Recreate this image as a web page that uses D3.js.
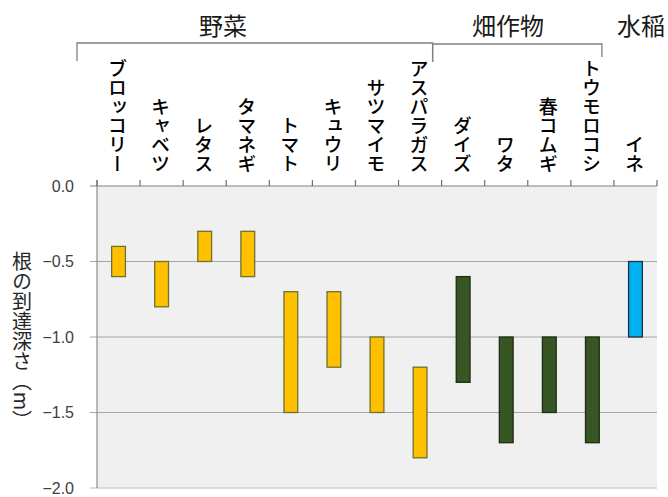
<!DOCTYPE html>
<html>
<head>
<meta charset="utf-8">
<script src="https://cdn.jsdelivr.net/npm/d3@7"></script>
<style>
  html, body { margin: 0; padding: 0; background: #fff; }
  svg { display: block; }
  .jp { font-family: "Noto Sans CJK JP", "Noto Sans", sans-serif; }
  .num { font-family: "Liberation Sans", Arial, sans-serif; }
</style>
</head>
<body>
<svg id="chart" width="668" height="497"></svg>
<script>
// Root depth ranges (m) by crop
const crops = ["ブロッコリー", "キャベツ", "レタス", "タマネギ", "トマト", "キュウリ", "サツマイモ", "アスパラガス",
               "ダイズ", "ワタ", "春コムギ", "トウモロコシ", "イネ"];
const depthTop    = [-0.4, -0.5, -0.3, -0.3, -0.7, -0.7, -1.0, -1.2, -0.6, -1.0, -1.0, -1.0, -0.5];
const depthBottom = [-0.6, -0.8, -0.5, -0.6, -1.5, -1.2, -1.5, -1.8, -1.3, -1.7, -1.5, -1.7, -1.0];
const cropGroup   = ["veg", "veg", "veg", "veg", "veg", "veg", "veg", "veg", "field", "field", "field", "field", "rice"];

// Crop groups shown above the columns
const groupKeys   = ["veg", "field", "rice"];
const groupNames  = ["野菜", "畑作物", "水稲"];
const groupFirst  = [0, 8, 12];
const groupLast   = [7, 11, 12];

const yTicks = [0, -0.5, -1.0, -1.5, -2.0];
const yTitle = "根の到達深さ（m）";

const fillColor   = d3.scaleOrdinal().domain(groupKeys).range(["#FFC000", "#375623", "#00B0F0"]);
const strokeColor = d3.scaleOrdinal().domain(groupKeys).range(["#6b7330", "#1e2d14", "#1d3442"]);

const svg = d3.select("#chart");
const plot = { left: 97, right: 657, top: 186, bottom: 488 };

const x = d3.scaleBand().domain(crops).range([plot.left, plot.right]).paddingInner(0).paddingOuter(0);
const y = d3.scaleLinear().domain([0, -2]).range([plot.top, plot.bottom]);
const fmt = d3.format(".1f");

// plot background
svg.append("rect")
  .attr("x", plot.left).attr("y", plot.top)
  .attr("width", plot.right - plot.left).attr("height", plot.bottom - plot.top)
  .attr("fill", "#f0f0f0");

// horizontal grid lines with left tick stubs
svg.append("g").selectAll("line")
  .data(yTicks.filter(t => t !== 0 && t !== -2))
  .join("line")
  .attr("x1", plot.left - 7).attr("x2", plot.right)
  .attr("y1", d => y(d)).attr("y2", d => y(d))
  .attr("stroke", "#a6a6a6").attr("stroke-width", 1.2);

// bottom line
svg.append("line")
  .attr("x1", plot.left - 7).attr("x2", plot.right)
  .attr("y1", y(-2)).attr("y2", y(-2))
  .attr("stroke", "#d0d0d0").attr("stroke-width", 1.5);

// left axis line
svg.append("line")
  .attr("x1", plot.left).attr("x2", plot.left)
  .attr("y1", plot.top - 6).attr("y2", plot.bottom)
  .attr("stroke", "#8c8c8c").attr("stroke-width", 1.2);

// zero line with category boundary ticks
svg.append("line")
  .attr("x1", plot.left - 7).attr("x2", plot.right)
  .attr("y1", y(0)).attr("y2", y(0))
  .attr("stroke", "#808080").attr("stroke-width", 1.2);
const boundaries = crops.map(c => x(c)).concat([x(crops[crops.length - 1]) + x.bandwidth()]);
svg.append("g").selectAll("line")
  .data(boundaries)
  .join("line")
  .attr("x1", d => d).attr("x2", d => d)
  .attr("y1", y(0) - 6).attr("y2", y(0))
  .attr("stroke", "#6e6e6e").attr("stroke-width", 1.2);

// y tick labels
svg.append("g").selectAll("text")
  .data(yTicks)
  .join("text")
  .attr("class", "num")
  .attr("x", 74).attr("y", d => y(d))
  .attr("dy", "0.36em")
  .attr("text-anchor", "end")
  .attr("font-size", 16)
  .attr("fill", "#404040")
  .text(d => fmt(d));

// y axis title (vertical)
svg.append("text")
  .attr("class", "jp")
  .attr("x", 22).attr("y", 341)
  .attr("text-anchor", "middle")
  .attr("font-size", 20)
  .attr("fill", "#262626")
  .style("writing-mode", "vertical-rl")
  .text(yTitle);

// range bars
const bw = x.bandwidth() * 0.32;
svg.append("g").selectAll("rect")
  .data(crops)
  .join("rect")
  .attr("x", d => x(d) + (x.bandwidth() - bw) / 2)
  .attr("y", (d, i) => y(depthTop[i]))
  .attr("width", bw)
  .attr("height", (d, i) => y(depthBottom[i]) - y(depthTop[i]))
  .attr("fill", (d, i) => fillColor(cropGroup[i]))
  .attr("stroke", (d, i) => strokeColor(cropGroup[i]))
  .attr("stroke-width", 1.3);

// crop names, vertical, bottom aligned above the plot
svg.append("g").selectAll("text")
  .data(crops)
  .join("text")
  .attr("class", "jp")
  .attr("x", d => x(d) + x.bandwidth() / 2 - 1)
  .attr("y", 173)
  .attr("text-anchor", "end")
  .attr("font-size", 19)
  .attr("font-weight", 500)
  .attr("fill", "#000")
  .style("writing-mode", "vertical-rl")
  .style("text-orientation", "upright")
  .text(d => d);

// group brackets
const bracketSpecs = [
  { x0: x(crops[groupFirst[0]]) - 20, x1: x(crops[groupLast[0]]) + x.bandwidth() - 9, top: 43, l: 61, r: 62 },
  { x0: x(crops[groupFirst[1]]) - 9,  x1: x(crops[groupLast[1]]) + x.bandwidth() - 12, top: 44, l: 62, r: 57 }
];
svg.append("g").selectAll("path")
  .data(bracketSpecs)
  .join("path")
  .attr("d", b => `M${b.x0},${b.l} V${b.top} H${b.x1} V${b.r}`)
  .attr("fill", "none")
  .attr("stroke", "#808080")
  .attr("stroke-width", 1.3);

// group names
const groupLabelX = [223, 508, 641];
svg.append("g").selectAll("text")
  .data(groupNames)
  .join("text")
  .attr("class", "jp")
  .attr("x", (d, i) => groupLabelX[i])
  .attr("y", 35)
  .attr("text-anchor", "middle")
  .attr("font-size", 24)
  .attr("fill", "#1a1a1a")
  .text(d => d);
</script>
</body>
</html>
